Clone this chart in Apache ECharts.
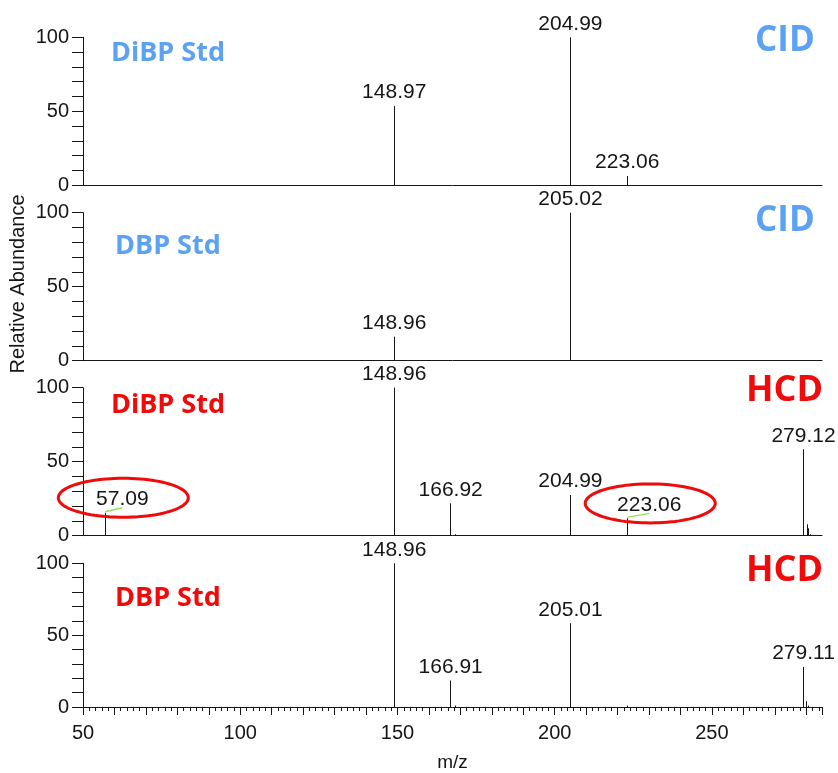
<!DOCTYPE html>
<html>
<head>
<meta charset="utf-8">
<script src="https://cdn.jsdelivr.net/npm/echarts@6/dist/echarts.min.js"></script>
<style>
  html, body { margin: 0; padding: 0; background: #ffffff; }
  #chart { width: 838px; height: 773px; }
</style>
</head>
<body>
<div id="chart"></div>
<script>
// Product-ion spectra of DiBP and DBP standards, CID vs HCD fragmentation.
// Each panel: m/z values, relative abundances (%), and which peaks carry a label.

const cidDibpMz = [148.97, 204.99, 223.06];
const cidDibpAbund = [53.5, 100, 6.3];
const cidDibpLabeled = [148.97, 204.99, 223.06];

const cidDbpMz = [148.96, 205.02];
const cidDbpAbund = [16.2, 100];
const cidDbpLabeled = [148.96, 205.02];

const hcdDibpMz = [57.09, 148.96, 166.92, 168.3, 204.99, 223.06, 279.12, 280.3, 280.7, 281.3];
const hcdDibpAbund = [15.5, 100, 21.9, 1, 27.5, 11.7, 58.4, 7.7, 5.0, 1];
const hcdDibpLabeled = [57.09, 148.96, 166.92, 204.99, 223.06, 279.12];
const hcdDibpCircled = [57.09, 223.06];

const hcdDbpMz = [148.96, 166.91, 168.3, 205.01, 223.3, 279.11, 280.1, 280.7];
const hcdDbpAbund = [100, 18.4, 1, 58.3, 1, 27.9, 4.0, 1];
const hcdDbpLabeled = [148.96, 166.91, 205.01, 279.11];

const panelNames = ['DiBP Std', 'DBP Std', 'DiBP Std', 'DBP Std'];
const modeNames = ['CID', 'CID', 'HCD', 'HCD'];
const yTickLabels = [0, 50, 100];
const xTickLabels = [50, 100, 150, 200, 250];

const BLUE = '#5ba1f4';
const RED = '#f00a0a';
const INK = '#151515';
const NUM_FONT = '"Liberation Sans", Arial, Helvetica, sans-serif';
const TAG_FONT = '"Open Sans", "Noto Sans", sans-serif';

const panels = [
  { mz: cidDibpMz, ab: cidDibpAbund, labeled: cidDibpLabeled, circled: [], shift: {} },
  { mz: cidDbpMz, ab: cidDbpAbund, labeled: cidDbpLabeled, circled: [], shift: {} },
  { mz: hcdDibpMz, ab: hcdDibpAbund, labeled: hcdDibpLabeled, circled: hcdDibpCircled,
    shift: { '57.09': 17, '223.06': 22 } },
  { mz: hcdDbpMz, ab: hcdDbpAbund, labeled: hcdDbpLabeled, circled: [], shift: {} }
];

const gridTops = [37.3, 212.7, 387.7, 563.3];
const gridHeight = 148;

function crisp(v) { return Math.round(v - 0.5) + 0.5; }

function ellipsePoints(cx, cy, rx, ry) {
  const pts = [];
  for (let k = 0; k < 96; k++) {
    const t = (k / 96) * Math.PI * 2;
    pts.push([cx + rx * Math.cos(t), cy + ry * Math.sin(t)]);
  }
  return pts;
}

function stickRenderer(panel) {
  return function (params, api) {
    const mz = api.value(0);
    const ab = api.value(1);
    const base = api.coord([mz, 0]);
    const top = api.coord([mz, ab]);
    const x = crisp(base[0]);
    const children = [{
      type: 'line',
      shape: { x1: x, y1: base[1], x2: x, y2: top[1] },
      style: { stroke: INK, lineWidth: 1 }
    }];
    if (panel.labeled.indexOf(mz) >= 0) {
      const text = mz.toFixed(2);
      const dx = panel.shift[text] || 0;
      const lx = top[0] + dx;
      const ly = top[1] - 3;
      if (dx) {
        children.push({
          type: 'line',
          shape: { x1: top[0], y1: top[1] - 1, x2: lx, y2: top[1] - 5 },
          style: { stroke: '#8fe35c', lineWidth: 1.5 }
        });
      }
      children.push({
        type: 'text',
        style: {
          text: text, x: lx, y: ly, align: 'center', verticalAlign: 'bottom',
          font: '21px ' + NUM_FONT, fill: INK
        }
      });
      if (panel.circled.indexOf(mz) >= 0) {
        children.push({
          type: 'polygon',
          shape: { points: ellipsePoints(lx + 1, top[1] - 15, 65, 19.5) },
          style: { fill: 'none', stroke: RED, lineWidth: 3 }
        });
      }
    }
    return { type: 'group', children: children };
  };
}

const grids = [], xAxes = [], yAxes = [], series = [];
panels.forEach(function (panel, i) {
  const last = i === panels.length - 1;
  grids.push({ left: 83, width: 739, top: gridTops[i], height: gridHeight });
  xAxes.push({
    gridIndex: i, type: 'value', min: 50, max: 285, interval: 10,
    axisLine: { show: true, onZero: false, lineStyle: { color: INK, width: 1 } },
    axisTick: { show: last, length: 8, lineStyle: { color: INK, width: 1 } },
    minorTick: { show: last, splitNumber: 5, length: 4, lineStyle: { color: INK, width: 1 } },
    axisLabel: {
      show: last, margin: 16, fontSize: 20, color: INK, fontFamily: NUM_FONT,
      formatter: function (v) { return xTickLabels.indexOf(v) >= 0 ? String(v) : ''; }
    },
    splitLine: { show: false }, minorSplitLine: { show: false },
    name: last ? 'm/z' : '', nameLocation: 'middle', nameGap: 46,
    nameTextStyle: { fontSize: 19, color: INK, fontFamily: NUM_FONT }
  });
  yAxes.push({
    gridIndex: i, type: 'value', min: 0, max: 100, interval: 10,
    axisLine: { show: true, lineStyle: { color: INK, width: 1 } },
    axisTick: { show: true, length: 11, lineStyle: { color: INK, width: 1 } },
    axisLabel: {
      margin: 14, fontSize: 20, color: INK, fontFamily: NUM_FONT,
      formatter: function (v) { return yTickLabels.indexOf(v) >= 0 ? String(v) : ''; }
    },
    splitLine: { show: false }
  });
  series.push({
    type: 'custom', xAxisIndex: i, yAxisIndex: i, clip: false, silent: true,
    renderItem: stickRenderer(panel),
    data: panel.mz.map(function (m, k) { return [m, panel.ab[k]]; })
  });
});

// Panel tags (compound name and fragmentation mode)
const tagPos = [
  { name: [111, 53.2], mode: [755, 41.4] },
  { name: [115, 246.7], mode: [755, 220.8] },
  { name: [111, 405], mode: [746, 390.5] },
  { name: [115, 598], mode: [746, 570.5] }
];
const graphics = [];
tagPos.forEach(function (p, i) {
  const color = modeNames[i] === 'CID' ? BLUE : RED;
  graphics.push({
    type: 'text', x: p.name[0], y: p.name[1],
    style: { text: panelNames[i], font: 'bold 27px ' + TAG_FONT, fill: color,
             align: 'left', verticalAlign: 'middle' }
  });
  graphics.push({
    type: 'text', x: p.mode[0], y: p.mode[1],
    style: { text: modeNames[i], font: 'bold ' + (modeNames[i] === 'CID' ? 35 : 36) + 'px ' + TAG_FONT,
             fill: color, align: 'left', verticalAlign: 'middle' }
  });
});
graphics.push({
  type: 'text', x: 18, y: 284, rotation: Math.PI / 2,
  style: { text: 'Relative Abundance', font: '20px ' + NUM_FONT, fill: INK,
           align: 'center', verticalAlign: 'middle' }
});

const chart = echarts.init(document.getElementById('chart'), null, { renderer: 'canvas' });
chart.setOption({
  animation: false,
  backgroundColor: '#ffffff',
  grid: grids,
  xAxis: xAxes,
  yAxis: yAxes,
  series: series,
  graphic: graphics
});
</script>
</body>
</html>
